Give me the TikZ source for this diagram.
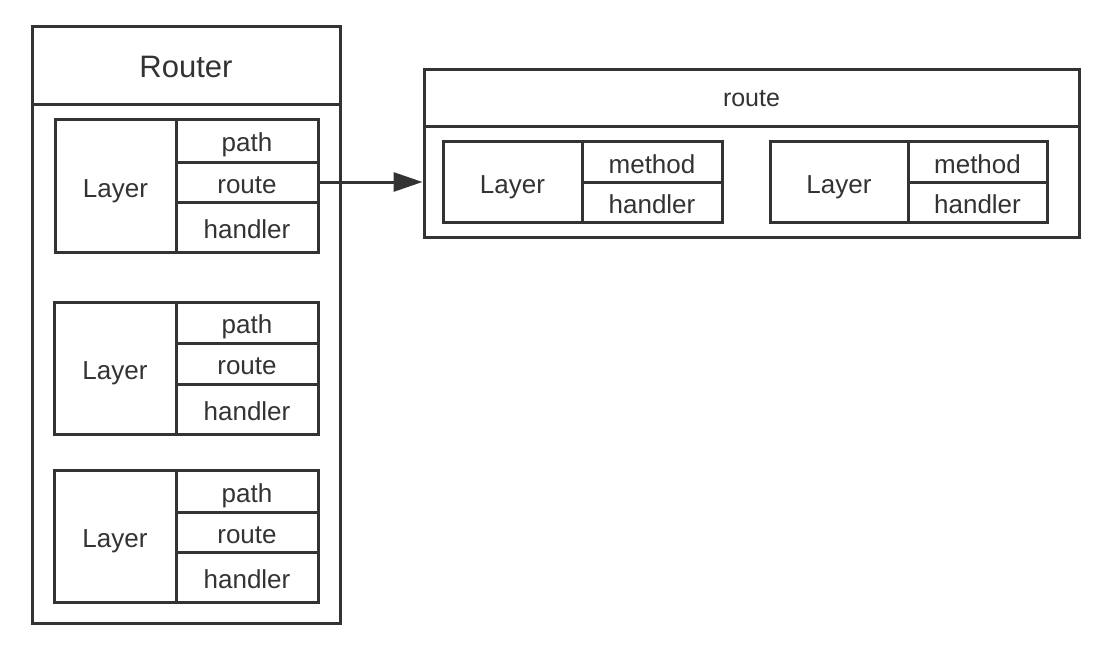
\documentclass[tikz,border=0pt]{standalone}
\usepackage{fontspec}
\setmainfont{Liberation Sans}
\usetikzlibrary{arrows.meta}
\definecolor{ink}{HTML}{333333}
\tikzset{
  cell/.style={draw=ink, line width=3pt, rectangle, inner sep=0pt, text=ink,
    text height=22pt, text depth=0pt,
    font=\fontsize{26}{30}\selectfont},
  hdr/.style={cell, text height=24pt, font=\fontsize{31}{35}\selectfont},
  hdrs/.style={cell, text height=17pt, font=\fontsize{25}{29}\selectfont},
  conn/.style={draw=ink, line width=3pt, -{Triangle[length=29pt,width=19pt]}},
}
\newcommand{\cellat}[6]{% name, x1, y1, x2, y2, text
  \node[cell, minimum width={(#4)-(#2)}, minimum height={(#5)-(#3)}]
    (#1) at ({((#2)+(#4))/2},{((#3)+(#5))/2}) {#6};}
\begin{document}
\begin{tikzpicture}[x=1pt,y=-1pt]
\useasboundingbox[fill=white] (0,0) rectangle (1108,650);
% Router container
\node[hdr, minimum width=308, minimum height=78] (router) at (186,66) {Router};
\node[cell, minimum width=308, minimum height=518] (rbody) at (186,364) {};
% Layer 1
\cellat{la}{55}{120}{176}{252}{Layer}
\cellat{lapath}{176}{120}{318}{162}{path}
\cellat{laroute}{176}{162}{318}{202}{route}
\cellat{lahandler}{176}{202}{318}{252}{handler}
% Layer 2
\cellat{lb}{54}{302}{176}{434}{Layer}
\cellat{lbpath}{176}{302}{318}{343}{path}
\cellat{lbroute}{176}{343}{318}{384}{route}
\cellat{lbhandler}{176}{384}{318}{434}{handler}
% Layer 3
\cellat{lc}{54}{470}{176}{602}{Layer}
\cellat{lcpath}{176}{470}{318}{512}{path}
\cellat{lcroute}{176}{512}{318}{552}{route}
\cellat{lchandler}{176}{552}{318}{602}{handler}
% route container
\node[hdrs, minimum width=655, minimum height=57] (route) at (751.5,98.5) {route};
\node[cell, minimum width=655, minimum height=110] (rtbody) at (751.5,182) {};
% route layer A
\cellat{ra}{443}{142}{582}{222}{Layer}
\cellat{ramethod}{582}{142}{722}{182}{method}
\cellat{rahandler}{582}{182}{722}{222}{handler}
% route layer B
\cellat{rb}{770}{142}{908}{222}{Layer}
\cellat{rbmethod}{908}{142}{1047}{182}{method}
\cellat{rbhandler}{908}{182}{1047}{222}{handler}
% connector
\draw[conn] (laroute.east) -- (rtbody.west);
\end{tikzpicture}
\end{document}
